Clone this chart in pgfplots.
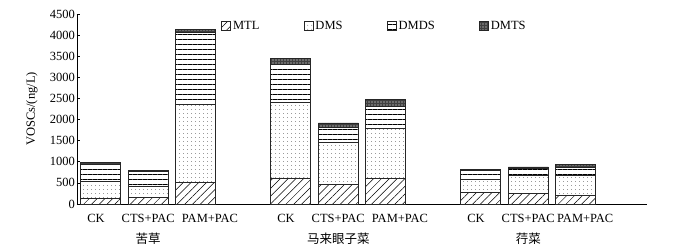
\documentclass[border=0pt]{standalone}
\usepackage{pgfplots}
\pgfplotsset{compat=1.18}
\usepackage{fontspec}
\setmainfont{Liberation Serif}
\newfontfamily\cjk{Noto Sans CJK SC}
\usetikzlibrary{patterns,patterns.meta}
\pgfplotsset{myleg/.style={legend image code/.code={\draw[##1] (0pt,-4.5pt) rectangle (9pt,4.5pt);}}}
\begin{document}
\begin{tikzpicture}[font=\fontsize{12.5}{14}\selectfont]
\path[use as bounding box] (-77pt,-45pt) rectangle (596pt,204pt);
\begin{axis}[
  scale only axis, width=570pt, height=190pt,
  at={(0,0)}, anchor=south west,
  xmin=-0.5, xmax=11.5, ymin=0, ymax=4500,
  ybar stacked, bar width=40pt,
  axis x line*=bottom, axis y line*=left,
  axis line style={black, line width=0.7pt},
  xtick={-0.1,1,2.3,3.9,5,6.3,7.9,9,10.2},
  xticklabels={CK,CTS+PAC,PAM+PAC,CK,CTS+PAC,PAM+PAC,CK,CTS+PAC,PAM+PAC},
  x tick style={draw=none},
  ytick={0,500,...,4500},
  tick align=inside, major tick length=3.5pt,
  y tick style={black, line width=0.6pt},
  /pgf/number format/assume math mode=true,
  /pgf/number format/1000 sep={},
  ticklabel style={font=\fontsize{12.5}{14}\selectfont},
  yticklabel style={inner sep=2pt},
  xticklabel style={inner sep=2pt, yshift=-8pt},
  ylabel={VOSCs/(ng/L)},
  ylabel style={at={(axis description cs:-0.079,0.5)}, anchor=center, font=\fontsize{12.5}{14}\selectfont},
  clip=false,
  legend columns=4,
  legend cell align=left,
  legend style={draw=none, fill=none, at={(rel axis cs:0.253,0.937)}, anchor=west,
    inner sep=0pt, font=\fontsize{12.5}{14}\selectfont,
    nodes={inner sep=2pt},
    /tikz/every even column/.append style={column sep=42.5pt}},
]
\addplot[myleg, draw=black!85, line width=0.6pt, fill=white,
  pattern={Lines[angle=45,distance=5.5pt,line width=0.5pt]}, pattern color=black]
  coordinates {(0,140) (1,160) (2,520) (4,620) (5,470) (6,600) (8,280) (9,250) (10,200)};
\addlegendentry{MTL}
\addplot[myleg, draw=black!85, line width=0.6pt,
  pattern={Dots[distance=4pt,radius=0.45pt]}, pattern color=black!80]
  coordinates {(0,400) (1,270) (2,1850) (4,1780) (5,990) (6,1200) (8,310) (9,420) (10,470)};
\addlegendentry{DMS}
\addplot[myleg, draw=black!85, line width=0.6pt,
  pattern={Lines[angle=0,distance=5pt,line width=0.7pt]}, pattern color=black]
  coordinates {(0,390) (1,340) (2,1690) (4,920) (5,360) (6,520) (8,205) (9,180) (10,210)};
\addlegendentry{DMDS}
\addplot[myleg, draw=black!85, line width=0.6pt, preaction={fill=black!75},
  pattern={Dots[distance=3pt,radius=0.6pt]}, pattern color=white]
  coordinates {(0,50) (1,20) (2,80) (4,120) (5,100) (6,150) (8,15) (9,30) (10,50)};
\addlegendentry{DMTS}
\node[font={\cjk\fontsize{12.5}{14}\selectfont}, yshift=-35pt] at (axis cs:1,0) {苦草};
\node[font={\cjk\fontsize{12.5}{14}\selectfont}, yshift=-35pt] at (axis cs:5,0) {马来眼子菜};
\node[font={\cjk\fontsize{12.5}{14}\selectfont}, yshift=-35pt] at (axis cs:9,0) {荇菜};
\end{axis}
\end{tikzpicture}
\end{document}
